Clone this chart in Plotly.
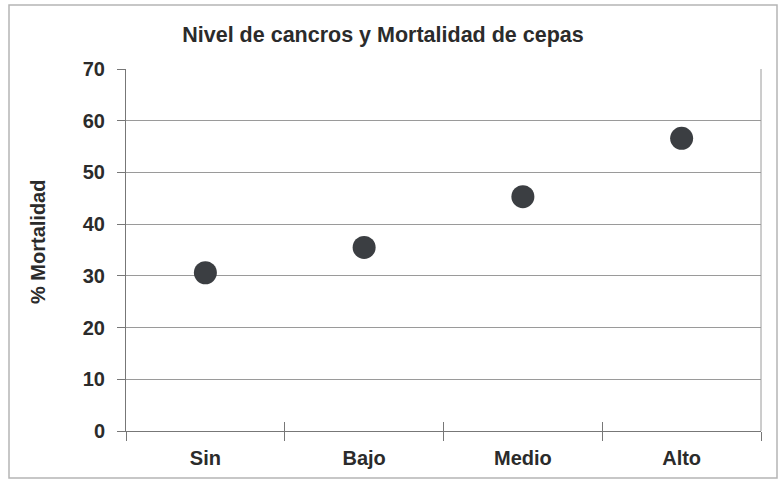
import plotly.graph_objects as go

categories = ["Sin", "Bajo", "Medio", "Alto"]
mortalidad = [30.6, 35.5, 45.3, 56.6]
y_ticks = [0, 10, 20, 30, 40, 50, 60, 70]

FONT = "Liberation Sans, Arial, sans-serif"
TXT = "#2b2b2b"

fig = go.Figure()
fig.add_trace(go.Scatter(
    x=categories, y=mortalidad, mode="markers",
    marker=dict(size=23, color="#3b3e42", line=dict(width=0)),
    showlegend=False, hoverinfo="x+y",
))
# invisible helper trace for inside ticks (cross ticks effect)
fig.add_trace(go.Scatter(x=categories, y=mortalidad, mode="markers",
                         marker=dict(opacity=0), xaxis="x2", showlegend=False,
                         hoverinfo="skip"))

W, H = 780, 482
L, R, T, B = 126, 19, 69, 51
pw, ph = W - L - R, H - T - B

bold = dict(family=FONT, color=TXT, size=20, weight="bold")

fig.update_layout(
    width=W, height=H,
    margin=dict(l=L, r=R, t=T, b=B),
    paper_bgcolor="white", plot_bgcolor="white",
    font=dict(family=FONT, color=TXT, size=20),
    title=dict(text="Nivel de cancros y Mortalidad de cepas",
               x=383 / W, xanchor="center", y=1 - 34 / H, yanchor="middle",
               yref="container",
               font=dict(size=21.5, color=TXT, family=FONT, weight="bold")),
    xaxis=dict(
        type="category", categoryorder="array", categoryarray=categories,
        range=[-0.5, 3.5], tickson="boundaries", ticks="outside", ticklen=9,
        tickcolor="#777", tickwidth=1, showgrid=False, showline=True,
        linecolor="#777", linewidth=1, zeroline=False,
        tickfont=bold, ticklabelstandoff=9,
    ),
    xaxis2=dict(
        type="category", categoryorder="array", categoryarray=categories,
        overlaying="x", anchor="y", side="bottom", range=[-0.5, 3.5],
        tickson="boundaries", ticks="inside", ticklen=9, tickcolor="#777",
        tickwidth=1, showticklabels=False, showgrid=False, showline=False,
        zeroline=False,
    ),
    yaxis=dict(
        range=[0, 70], tickvals=y_ticks, ticks="outside", ticklen=8,
        tickcolor="#777", tickwidth=1, showgrid=True, gridcolor="#9a9a9a",
        gridwidth=1, showline=True, linecolor="#777", linewidth=1,
        zeroline=False, tickfont=bold, ticklabelstandoff=8,
    ),
    annotations=[dict(
        text="% Mortalidad", textangle=-90, xref="paper", yref="paper",
        x=(38 - L) / pw, y=(H - B - 242) / ph, xanchor="center", yanchor="middle",
        showarrow=False, font=bold,
    )],
    shapes=[
        dict(type="line", xref="paper", yref="paper", x0=1, x1=1, y0=0, y1=1,
             line=dict(color="#9a9a9a", width=1)),
        dict(type="rect", xref="paper", yref="paper",
             x0=(9 - L) / pw, x1=(777 - L) / pw,
             y0=(H - B - 478) / ph, y1=(H - B - 5) / ph,
             line=dict(color="#b5b5b5", width=1.5), fillcolor="rgba(0,0,0,0)",
             layer="below"),
    ],
)

fig.write_html("out.html")
